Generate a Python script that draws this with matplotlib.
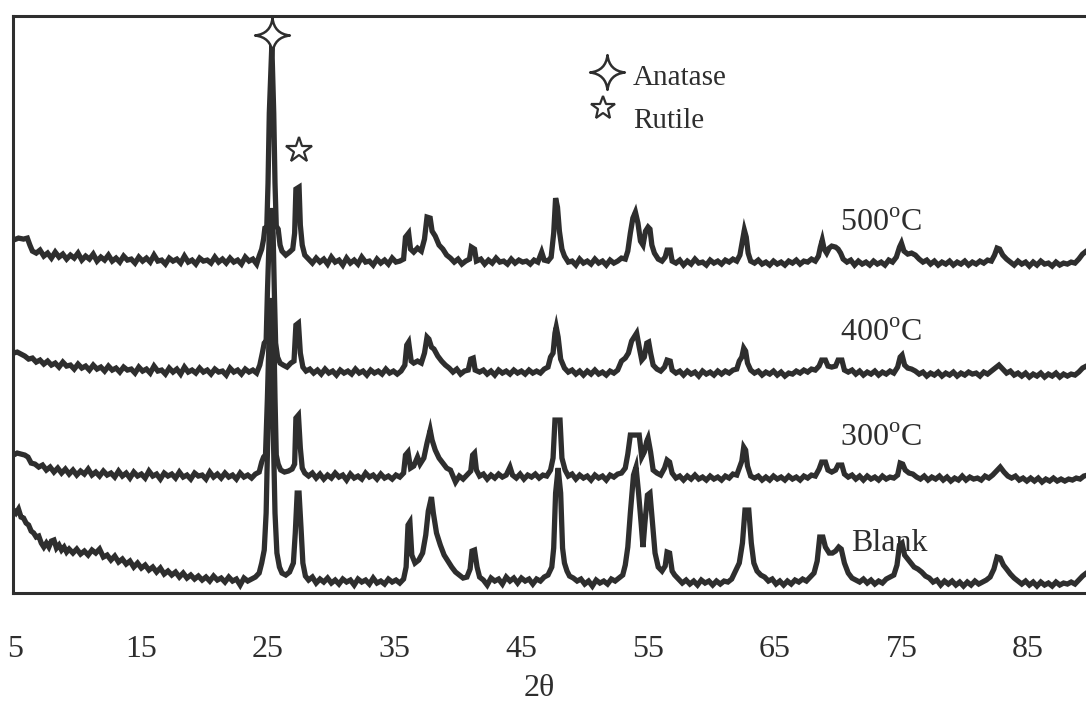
import numpy as np
import matplotlib
matplotlib.use("Agg")
import matplotlib.pyplot as plt
from matplotlib.path import Path

plt.rcParams['font.family'] = ['Liberation Serif', 'DejaVu Serif']
plt.rcParams['mathtext.fontset'] = 'custom'
plt.rcParams['mathtext.rm'] = 'Liberation Serif'

# (2theta, intensity), arbitrary units
T500 = [
    (4.9, 33), (5.3, 35), (5.7, 34), (6.0, 35), (6.2, 28), (6.4, 22), (6.7, 20), (7.0, 23), (7.3, 17), (7.6, 20),
    (7.9, 15), (8.2, 21), (8.5, 16), (8.8, 19), (9.1, 14), (9.4, 18), (9.7, 15), (10.0, 20), (10.3, 13), (10.6, 17),
    (10.9, 14), (11.2, 19), (11.5, 12), (11.8, 16), (12.1, 13), (12.4, 18), (12.7, 12), (13.0, 15), (13.3, 11), (13.6, 17),
    (13.9, 13), (14.2, 14), (14.5, 10), (14.8, 16), (15.1, 12), (15.4, 15), (15.7, 11), (16.0, 18), (16.3, 12), (16.6, 13),
    (16.9, 9), (17.2, 15), (17.5, 12), (17.8, 14), (18.1, 10), (18.4, 17), (18.7, 11), (19.0, 13), (19.3, 9), (19.6, 15),
    (19.9, 12), (20.2, 13), (20.5, 10), (20.8, 16), (21.1, 11), (21.4, 14), (21.7, 10), (22.0, 15), (22.3, 11), (22.6, 13),
    (22.9, 9), (23.2, 16), (23.5, 12), (23.8, 14), (24.1, 9), (24.3, 17), (24.5, 24), (24.65, 34), (24.75, 45), (24.9, 46),
    (25.0, 90), (25.1, 160), (25.3, 228), (25.45, 160), (25.55, 90), (25.65, 47), (25.8, 44), (25.95, 28), (26.1, 22), (26.4, 18),
    (26.7, 21), (26.95, 24), (27.1, 40), (27.2, 84), (27.45, 86), (27.55, 48), (27.7, 28), (27.9, 18), (28.2, 14), (28.5, 10),
    (28.8, 15), (29.1, 11), (29.4, 14), (29.7, 9), (30.0, 16), (30.3, 11), (30.6, 13), (30.9, 8), (31.2, 15), (31.5, 10),
    (31.8, 13), (32.1, 9), (32.4, 16), (32.7, 11), (33.0, 12), (33.3, 8), (33.6, 14), (33.9, 10), (34.2, 13), (34.5, 9),
    (34.8, 15), (35.1, 11), (35.4, 12), (35.7, 14), (35.85, 36), (36.1, 40), (36.25, 24), (36.5, 21), (36.8, 25), (37.1, 22),
    (37.35, 34), (37.55, 56), (37.8, 55), (37.95, 42), (38.2, 37), (38.5, 28), (38.8, 24), (39.1, 18), (39.4, 15), (39.7, 11),
    (40.0, 14), (40.3, 9), (40.6, 12), (40.9, 14), (41.05, 26), (41.3, 24), (41.45, 12), (41.8, 14), (42.1, 9), (42.4, 13),
    (42.7, 10), (43.0, 15), (43.3, 11), (43.6, 12), (43.9, 9), (44.2, 14), (44.5, 10), (44.8, 13), (45.1, 11), (45.4, 12),
    (45.7, 9), (46.0, 13), (46.3, 11), (46.6, 21), (46.8, 13), (47.1, 12), (47.35, 16), (47.55, 40), (47.7, 75), (47.85, 66),
    (48.0, 42), (48.2, 24), (48.4, 17), (48.7, 11), (49.0, 12), (49.3, 8), (49.6, 14), (49.9, 10), (50.2, 12), (50.5, 9),
    (50.8, 14), (51.1, 10), (51.4, 12), (51.7, 8), (52.0, 13), (52.3, 10), (52.6, 12), (52.9, 15), (53.2, 14), (53.4, 22),
    (53.6, 40), (53.8, 55), (54.0, 61), (54.2, 50), (54.4, 32), (54.6, 28), (54.8, 42), (55.0, 46), (55.15, 44), (55.3, 28),
    (55.5, 20), (55.8, 14), (56.1, 12), (56.35, 16), (56.5, 23), (56.75, 23), (56.9, 12), (57.2, 10), (57.5, 13), (57.8, 8),
    (58.1, 12), (58.4, 9), (58.7, 14), (59.0, 10), (59.3, 11), (59.6, 8), (59.9, 13), (60.2, 10), (60.5, 12), (60.8, 9),
    (61.1, 13), (61.4, 11), (61.7, 14), (62.0, 12), (62.25, 18), (62.45, 32), (62.6, 43), (62.75, 36), (62.9, 20), (63.1, 12),
    (63.4, 10), (63.7, 13), (64.0, 9), (64.3, 11), (64.6, 8), (64.9, 12), (65.2, 9), (65.5, 11), (65.8, 8), (66.1, 12),
    (66.4, 10), (66.7, 13), (67.0, 9), (67.3, 12), (67.6, 11), (67.9, 14), (68.2, 12), (68.45, 17), (68.6, 26), (68.75, 33),
    (68.9, 24), (69.1, 20), (69.3, 25), (69.5, 27), (69.8, 26), (70.0, 24), (70.2, 20), (70.4, 14), (70.7, 11), (71.0, 13),
    (71.3, 8), (71.6, 12), (71.9, 9), (72.2, 11), (72.5, 8), (72.8, 12), (73.1, 9), (73.4, 11), (73.7, 8), (74.0, 13),
    (74.3, 11), (74.6, 16), (74.85, 26), (75.0, 30), (75.2, 22), (75.5, 19), (75.8, 20), (76.1, 18), (76.4, 14), (76.7, 11),
    (77.0, 13), (77.3, 9), (77.6, 12), (77.9, 8), (78.2, 11), (78.5, 9), (78.8, 12), (79.1, 8), (79.4, 11), (79.7, 9),
    (80.0, 12), (80.3, 8), (80.6, 11), (80.9, 9), (81.2, 12), (81.5, 10), (81.8, 13), (82.1, 12), (82.35, 18), (82.55, 25),
    (82.75, 24), (83.0, 18), (83.3, 14), (83.6, 11), (83.9, 8), (84.2, 12), (84.5, 9), (84.8, 11), (85.1, 7), (85.4, 11),
    (85.7, 8), (86.0, 12), (86.3, 9), (86.6, 10), (86.9, 7), (87.2, 11), (87.5, 8), (87.8, 10), (88.1, 9), (88.4, 11),
    (88.7, 10), (89.0, 14), (89.3, 19), (89.6, 22), (89.9, 24),
]

T400 = [
    (4.9, 30), (5.2, 31), (5.5, 29), (5.8, 27), (6.1, 24), (6.4, 25), (6.7, 21), (7.0, 23), (7.3, 19), (7.6, 22),
    (7.9, 18), (8.2, 20), (8.5, 16), (8.8, 21), (9.1, 17), (9.4, 18), (9.7, 14), (10.0, 19), (10.3, 15), (10.6, 17),
    (10.9, 13), (11.2, 18), (11.5, 14), (11.8, 16), (12.1, 12), (12.4, 17), (12.7, 13), (13.0, 15), (13.3, 11), (13.6, 16),
    (13.9, 13), (14.2, 14), (14.5, 10), (14.8, 16), (15.1, 12), (15.4, 14), (15.7, 10), (16.0, 17), (16.3, 12), (16.6, 13),
    (16.9, 9), (17.2, 15), (17.5, 11), (17.8, 14), (18.1, 9), (18.4, 16), (18.7, 11), (19.0, 13), (19.3, 10), (19.6, 15),
    (19.9, 11), (20.2, 13), (20.5, 9), (20.8, 14), (21.1, 11), (21.4, 12), (21.7, 8), (22.0, 15), (22.3, 11), (22.6, 13),
    (22.9, 9), (23.2, 14), (23.5, 11), (23.8, 13), (24.1, 10), (24.35, 18), (24.55, 30), (24.7, 40), (24.85, 42), (24.95, 90),
    (25.1, 150), (25.25, 175), (25.4, 150), (25.5, 90), (25.6, 40), (25.75, 26), (25.95, 20), (26.2, 18), (26.5, 16), (26.8, 20),
    (27.05, 22), (27.2, 58), (27.4, 60), (27.55, 30), (27.75, 16), (28.0, 12), (28.3, 14), (28.6, 10), (28.9, 13), (29.2, 9),
    (29.5, 14), (29.8, 10), (30.1, 12), (30.4, 8), (30.7, 13), (31.0, 10), (31.3, 12), (31.6, 9), (31.9, 14), (32.2, 10),
    (32.5, 12), (32.8, 8), (33.1, 13), (33.4, 10), (33.7, 12), (34.0, 9), (34.3, 14), (34.6, 10), (34.9, 12), (35.2, 9),
    (35.5, 12), (35.8, 18), (35.95, 38), (36.1, 41), (36.3, 22), (36.5, 20), (36.8, 22), (37.1, 20), (37.35, 30), (37.55, 46),
    (37.7, 44), (37.9, 36), (38.1, 34), (38.4, 27), (38.7, 22), (39.0, 18), (39.3, 15), (39.6, 11), (39.9, 14), (40.2, 9),
    (40.5, 12), (40.8, 13), (41.0, 24), (41.2, 25), (41.35, 13), (41.7, 11), (42.0, 13), (42.3, 9), (42.6, 12), (42.9, 8),
    (43.2, 13), (43.5, 10), (43.8, 12), (44.1, 9), (44.4, 13), (44.7, 10), (45.0, 12), (45.3, 9), (45.6, 13), (45.9, 10),
    (46.2, 12), (46.5, 10), (46.8, 14), (47.1, 16), (47.3, 26), (47.5, 30), (47.65, 50), (47.75, 56), (47.9, 46), (48.1, 24),
    (48.4, 15), (48.7, 11), (49.0, 13), (49.3, 9), (49.6, 12), (49.9, 8), (50.2, 12), (50.5, 9), (50.8, 13), (51.1, 9),
    (51.4, 11), (51.7, 8), (52.0, 12), (52.3, 10), (52.6, 13), (52.9, 22), (53.2, 25), (53.45, 30), (53.7, 42), (53.9, 46),
    (54.1, 50), (54.3, 36), (54.5, 23), (54.7, 26), (54.9, 40), (55.05, 41), (55.2, 30), (55.4, 18), (55.7, 14), (56.0, 12),
    (56.3, 16), (56.5, 23), (56.75, 22), (56.9, 13), (57.2, 10), (57.5, 12), (57.8, 8), (58.1, 12), (58.4, 9), (58.7, 11),
    (59.0, 7), (59.3, 12), (59.6, 9), (59.9, 11), (60.2, 8), (60.5, 12), (60.8, 9), (61.1, 12), (61.4, 10), (61.7, 13),
    (62.0, 14), (62.2, 22), (62.4, 26), (62.55, 35), (62.7, 32), (62.85, 20), (63.1, 13), (63.4, 10), (63.7, 12), (64.0, 8),
    (64.3, 11), (64.6, 9), (64.9, 12), (65.2, 8), (65.5, 11), (65.8, 7), (66.1, 10), (66.4, 9), (66.7, 12), (67.0, 10),
    (67.3, 13), (67.6, 11), (67.9, 14), (68.2, 13), (68.5, 17), (68.7, 23), (69.0, 23), (69.2, 17), (69.5, 16), (69.8, 17),
    (70.0, 23), (70.3, 23), (70.5, 13), (70.8, 11), (71.1, 13), (71.4, 9), (71.7, 12), (72.0, 8), (72.3, 11), (72.6, 9),
    (72.9, 12), (73.2, 8), (73.5, 11), (73.8, 9), (74.1, 12), (74.4, 10), (74.7, 16), (74.9, 26), (75.05, 28), (75.25, 18),
    (75.5, 15), (75.8, 14), (76.1, 12), (76.4, 9), (76.7, 11), (77.0, 7), (77.3, 10), (77.6, 8), (77.9, 11), (78.2, 7),
    (78.5, 10), (78.8, 8), (79.1, 11), (79.4, 7), (79.7, 10), (80.0, 8), (80.3, 11), (80.6, 9), (80.9, 10), (81.2, 7),
    (81.5, 11), (81.8, 9), (82.1, 12), (82.4, 15), (82.7, 18), (83.0, 14), (83.3, 10), (83.6, 12), (83.9, 8), (84.2, 10),
    (84.5, 7), (84.8, 10), (85.1, 6), (85.4, 9), (85.7, 7), (86.0, 10), (86.3, 6), (86.6, 9), (86.9, 7), (87.2, 10),
    (87.5, 6), (87.8, 9), (88.1, 7), (88.4, 9), (88.7, 8), (89.0, 11), (89.3, 15), (89.6, 17), (89.9, 18),
]

T300 = [
    (4.9, 33), (5.2, 35), (5.5, 34), (5.8, 33), (6.05, 31), (6.3, 25), (6.6, 24), (6.9, 21), (7.2, 23), (7.5, 18),
    (7.8, 21), (8.1, 16), (8.4, 20), (8.7, 15), (9.0, 19), (9.3, 14), (9.6, 18), (9.9, 13), (10.2, 17), (10.5, 14),
    (10.8, 19), (11.1, 13), (11.4, 16), (11.7, 12), (12.0, 17), (12.3, 13), (12.6, 15), (12.9, 11), (13.2, 17), (13.5, 12),
    (13.8, 15), (14.1, 10), (14.4, 16), (14.7, 12), (15.0, 14), (15.3, 10), (15.6, 17), (15.9, 12), (16.2, 14), (16.5, 9),
    (16.8, 15), (17.1, 12), (17.4, 14), (17.7, 10), (18.0, 16), (18.3, 11), (18.6, 13), (18.9, 9), (19.2, 15), (19.5, 12),
    (19.8, 13), (20.1, 9), (20.4, 16), (20.7, 11), (21.0, 14), (21.3, 10), (21.6, 15), (21.9, 11), (22.2, 13), (22.5, 9),
    (22.8, 15), (23.1, 11), (23.4, 13), (23.7, 10), (24.0, 14), (24.3, 16), (24.5, 26), (24.65, 31), (24.8, 33), (24.95, 90),
    (25.1, 160), (25.3, 190), (25.45, 160), (25.55, 90), (25.65, 33), (25.8, 24), (26.0, 18), (26.3, 16), (26.6, 17), (26.9, 19),
    (27.1, 24), (27.2, 70), (27.4, 73), (27.55, 40), (27.7, 20), (27.9, 15), (28.2, 12), (28.5, 15), (28.8, 10), (29.1, 14),
    (29.4, 9), (29.7, 13), (30.0, 10), (30.3, 15), (30.6, 11), (30.9, 13), (31.2, 8), (31.5, 14), (31.8, 10), (32.1, 12),
    (32.4, 9), (32.7, 15), (33.0, 11), (33.3, 13), (33.6, 9), (33.9, 14), (34.2, 10), (34.5, 12), (34.8, 9), (35.1, 13),
    (35.4, 11), (35.7, 15), (35.85, 33), (36.05, 36), (36.25, 20), (36.5, 22), (36.8, 31), (37.0, 24), (37.3, 30), (37.55, 45),
    (37.8, 58), (37.95, 48), (38.2, 38), (38.5, 30), (38.8, 25), (39.1, 20), (39.4, 18), (39.6, 12), (39.8, 6), (40.1, 12),
    (40.4, 9), (40.7, 13), (41.0, 17), (41.15, 33), (41.3, 35), (41.45, 18), (41.7, 12), (42.0, 14), (42.3, 9), (42.6, 13),
    (42.9, 10), (43.2, 14), (43.5, 11), (43.8, 13), (44.1, 21), (44.3, 13), (44.6, 10), (44.9, 14), (45.2, 9), (45.5, 13),
    (45.8, 11), (46.1, 14), (46.4, 10), (46.7, 13), (47.0, 12), (47.3, 18), (47.5, 30), (47.65, 68), (48.05, 68), (48.2, 30),
    (48.45, 18), (48.7, 12), (49.0, 14), (49.3, 9), (49.6, 13), (49.9, 10), (50.2, 12), (50.5, 8), (50.8, 13), (51.1, 10),
    (51.4, 12), (51.7, 8), (52.0, 13), (52.3, 11), (52.6, 14), (52.9, 15), (53.2, 20), (53.4, 34), (53.6, 53), (54.3, 53),
    (54.5, 31), (54.7, 36), (54.9, 47), (55.0, 50), (55.2, 36), (55.4, 18), (55.7, 15), (56.0, 13), (56.3, 20), (56.5, 28),
    (56.7, 26), (56.9, 15), (57.2, 10), (57.5, 12), (57.8, 8), (58.1, 12), (58.4, 9), (58.7, 13), (59.0, 9), (59.3, 11),
    (59.6, 8), (59.9, 12), (60.2, 9), (60.5, 11), (60.8, 8), (61.1, 12), (61.4, 10), (61.7, 14), (62.0, 13), (62.2, 20),
    (62.4, 27), (62.55, 41), (62.7, 38), (62.85, 22), (63.1, 12), (63.4, 10), (63.7, 12), (64.0, 8), (64.3, 11), (64.6, 8),
    (64.9, 12), (65.2, 9), (65.5, 11), (65.8, 8), (66.1, 12), (66.4, 9), (66.7, 11), (67.0, 8), (67.3, 12), (67.6, 10),
    (67.9, 13), (68.2, 12), (68.5, 19), (68.7, 26), (69.0, 26), (69.2, 18), (69.5, 16), (69.8, 18), (70.0, 23), (70.3, 23),
    (70.5, 14), (70.8, 11), (71.1, 13), (71.4, 9), (71.7, 12), (72.0, 8), (72.3, 12), (72.6, 9), (72.9, 11), (73.2, 8),
    (73.5, 12), (73.8, 9), (74.1, 11), (74.4, 10), (74.7, 13), (74.9, 25), (75.1, 24), (75.3, 18), (75.6, 15), (75.9, 14),
    (76.2, 11), (76.5, 9), (76.8, 12), (77.1, 8), (77.4, 11), (77.7, 9), (78.0, 12), (78.3, 8), (78.6, 11), (78.9, 7),
    (79.2, 10), (79.5, 8), (79.8, 12), (80.1, 8), (80.4, 11), (80.7, 9), (81.0, 10), (81.3, 8), (81.6, 12), (81.9, 10),
    (82.2, 13), (82.5, 17), (82.8, 21), (83.1, 16), (83.4, 12), (83.7, 10), (84.0, 12), (84.3, 8), (84.6, 10), (84.9, 7),
    (85.2, 10), (85.5, 7), (85.8, 10), (86.1, 6), (86.4, 9), (86.7, 7), (87.0, 10), (87.3, 7), (87.6, 9), (87.9, 7),
    (88.2, 9), (88.5, 8), (88.8, 10), (89.1, 9), (89.4, 12), (89.7, 13),
]

BLANK = [
    (4.9, 83), (5.1, 80), (5.3, 84), (5.5, 76), (5.7, 75), (5.9, 70), (6.1, 68), (6.3, 62), (6.5, 60), (6.7, 56),
    (6.9, 57), (7.1, 50), (7.3, 46), (7.5, 50), (7.7, 46), (7.9, 52), (8.1, 53), (8.3, 45), (8.5, 48), (8.7, 43),
    (8.9, 46), (9.1, 41), (9.3, 44), (9.6, 40), (9.9, 44), (10.2, 39), (10.5, 42), (10.8, 38), (11.1, 43), (11.4, 40),
    (11.7, 44), (12.0, 36), (12.3, 38), (12.6, 33), (12.9, 37), (13.2, 31), (13.5, 34), (13.8, 29), (14.1, 32), (14.4, 26),
    (14.7, 30), (15.0, 25), (15.3, 28), (15.6, 23), (15.9, 26), (16.2, 21), (16.5, 25), (16.8, 19), (17.1, 22), (17.4, 18),
    (17.7, 21), (18.0, 16), (18.3, 20), (18.6, 15), (18.9, 18), (19.2, 14), (19.5, 17), (19.8, 13), (20.1, 16), (20.4, 12),
    (20.7, 17), (21.0, 13), (21.3, 15), (21.6, 11), (21.9, 16), (22.2, 12), (22.5, 14), (22.8, 8), (23.1, 15), (23.4, 12),
    (23.7, 14), (24.0, 16), (24.3, 20), (24.5, 30), (24.7, 43), (24.85, 80), (25.0, 170), (25.2, 250), (25.4, 170), (25.55, 80),
    (25.7, 40), (25.9, 26), (26.1, 20), (26.4, 18), (26.7, 21), (27.0, 30), (27.15, 60), (27.3, 100), (27.45, 100), (27.6, 66),
    (27.75, 30), (27.95, 17), (28.2, 13), (28.5, 16), (28.8, 10), (29.1, 14), (29.4, 11), (29.7, 15), (30.0, 10), (30.3, 13),
    (30.6, 9), (30.9, 14), (31.2, 11), (31.5, 13), (31.8, 8), (32.1, 14), (32.4, 11), (32.7, 13), (33.0, 9), (33.3, 15),
    (33.6, 10), (33.9, 12), (34.2, 9), (34.5, 14), (34.8, 11), (35.1, 13), (35.4, 10), (35.7, 14), (35.9, 26), (36.05, 68),
    (36.2, 71), (36.35, 38), (36.6, 30), (36.9, 33), (37.2, 40), (37.45, 58), (37.65, 82), (37.9, 96), (38.05, 80), (38.3, 60),
    (38.6, 48), (38.9, 38), (39.2, 32), (39.5, 26), (39.8, 21), (40.1, 18), (40.4, 15), (40.7, 16), (40.95, 24), (41.1, 42),
    (41.3, 43), (41.5, 26), (41.7, 16), (42.0, 13), (42.3, 8), (42.6, 15), (42.9, 12), (43.2, 14), (43.5, 9), (43.8, 16),
    (44.1, 12), (44.4, 15), (44.7, 10), (45.0, 15), (45.3, 12), (45.6, 14), (45.9, 9), (46.2, 14), (46.5, 12), (46.8, 16),
    (47.1, 18), (47.4, 26), (47.55, 45), (47.7, 100), (47.9, 125), (48.1, 100), (48.25, 45), (48.4, 30), (48.6, 22), (48.8, 17),
    (49.1, 15), (49.4, 12), (49.7, 14), (50.0, 9), (50.3, 12), (50.6, 7), (50.9, 13), (51.2, 10), (51.5, 12), (51.8, 9),
    (52.1, 14), (52.4, 12), (52.7, 15), (53.0, 18), (53.2, 28), (53.4, 46), (53.6, 80), (53.85, 118), (54.05, 126), (54.25, 100),
    (54.45, 70), (54.6, 46), (54.75, 70), (54.95, 98), (55.15, 100), (55.35, 70), (55.55, 40), (55.8, 26), (56.1, 22), (56.35, 27),
    (56.5, 41), (56.7, 40), (56.9, 22), (57.1, 18), (57.4, 14), (57.7, 10), (58.0, 13), (58.3, 9), (58.6, 12), (58.9, 8),
    (59.2, 13), (59.5, 10), (59.8, 12), (60.1, 8), (60.4, 12), (60.7, 9), (61.0, 12), (61.3, 11), (61.6, 14), (61.9, 22),
    (62.2, 30), (62.45, 50), (62.65, 83), (62.95, 83), (63.15, 50), (63.35, 30), (63.6, 22), (63.9, 18), (64.2, 16), (64.5, 12),
    (64.8, 14), (65.1, 9), (65.4, 12), (65.7, 8), (66.0, 12), (66.3, 9), (66.6, 13), (66.9, 11), (67.2, 14), (67.5, 12),
    (67.8, 16), (68.1, 20), (68.35, 32), (68.55, 56), (68.8, 56), (69.0, 46), (69.3, 40), (69.55, 40), (69.8, 42), (70.05, 46),
    (70.25, 44), (70.5, 30), (70.8, 20), (71.1, 15), (71.4, 13), (71.7, 11), (72.0, 14), (72.3, 10), (72.6, 13), (72.9, 9),
    (73.2, 12), (73.5, 10), (73.8, 14), (74.1, 16), (74.4, 18), (74.65, 28), (74.85, 48), (75.05, 50), (75.25, 38), (75.5, 34),
    (75.75, 30), (76.0, 26), (76.3, 24), (76.6, 21), (76.9, 17), (77.2, 15), (77.5, 11), (77.8, 13), (78.1, 8), (78.4, 12),
    (78.7, 9), (79.0, 12), (79.3, 8), (79.6, 11), (79.9, 7), (80.2, 11), (80.5, 8), (80.8, 12), (81.1, 9), (81.4, 11),
    (81.7, 13), (82.0, 16), (82.3, 24), (82.55, 36), (82.8, 35), (83.05, 28), (83.3, 24), (83.6, 19), (83.9, 15), (84.2, 12),
    (84.5, 9), (84.8, 12), (85.1, 8), (85.4, 11), (85.7, 7), (86.0, 11), (86.3, 8), (86.6, 10), (86.9, 7), (87.2, 11),
    (87.5, 8), (87.8, 10), (88.1, 9), (88.4, 11), (88.7, 9), (89.0, 13), (89.3, 17), (89.6, 20), (89.9, 22),
]

traces = [BLANK, T300, T400, T500]
offsets = [0, 105, 210, 320]
labels = ['Blank', r'300$^{\mathrm{o}}$C', r'400$^{\mathrm{o}}$C', r'500$^{\mathrm{o}}$C']
label_x = [71.0, 70.15, 70.15, 70.15]
xticks = [5, 15, 25, 35, 45, 55, 65, 75, 85]

INK = '#2e2e2e'

# four pointed star with concave sides (anatase marker)
c = 0.1
star4 = Path([(0, 1), (c, c), (1, 0), (c, -c), (0, -1), (-c, -c), (-1, 0), (-c, c), (0, 1), (0, 1)],
             [Path.MOVETO] + [Path.CURVE3] * 8 + [Path.CLOSEPOLY])

fig = plt.figure(figsize=(10.86, 7.01), dpi=100)
ax = fig.add_axes([0.012, 0.154, 0.988, 0.823])

for data, off in zip(traces, offsets):
    th, inten = np.array(data).T
    ax.plot(th, inten + off, color=INK, lw=3.8, solid_joinstyle='miter')

for txt, lx, off in zip(labels, label_x, offsets):
    ax.text(lx, off + 42, txt, fontsize=23, color=INK, ha='left', va='baseline')

# peak markers on the 500 C pattern
th5, in5 = np.array(T500).T
i_a = np.argmax(in5)
ax.plot(th5[i_a], in5[i_a] + offsets[3] + 10, marker=star4, ms=25, mfc='white',
        mec=INK, mew=1.8, ls='none', clip_on=False)
m = (th5 > 27) & (th5 < 28)
i_r = np.argmax(np.where(m, in5, -1))
ax.plot(th5[i_r], in5[i_r] + offsets[3] + 37, marker='*', ms=19, mfc='white',
        mec=INK, mew=1.6, ls='none')

# legend drawn by hand
ax.plot(0.5536, 0.903, marker=star4, ms=25, mfc='white', mec=INK, mew=1.8,
        transform=ax.transAxes, ls='none')
ax.plot(0.550, 0.8406, marker='*', ms=18, mfc='white', mec=INK, mew=1.6,
        transform=ax.transAxes, ls='none')
ax.text(0.5778, 0.8804, 'Anatase', fontsize=21, color=INK, transform=ax.transAxes, va='baseline')
ax.text(0.5778, 0.806, 'Rutile', fontsize=21, color=INK, transform=ax.transAxes, va='baseline')

ax.set_xlim(4.87, 89.57)
ax.set_ylim(0, 577)
ax.set_xticks(xticks)
ax.set_xticklabels([str(t) for t in xticks], fontsize=23, color=INK)
ax.tick_params(axis='x', length=0, pad=30)
ax.set_yticks([])
for s in ['left', 'top', 'bottom']:
    ax.spines[s].set_linewidth(2.2)
    ax.spines[s].set_color(INK)
ax.spines['right'].set_visible(False)

fig.text(0.497, 0.0185, '2θ', fontsize=23, color=INK, ha='center', va='center')

fig.savefig('out.png', dpi=100)
